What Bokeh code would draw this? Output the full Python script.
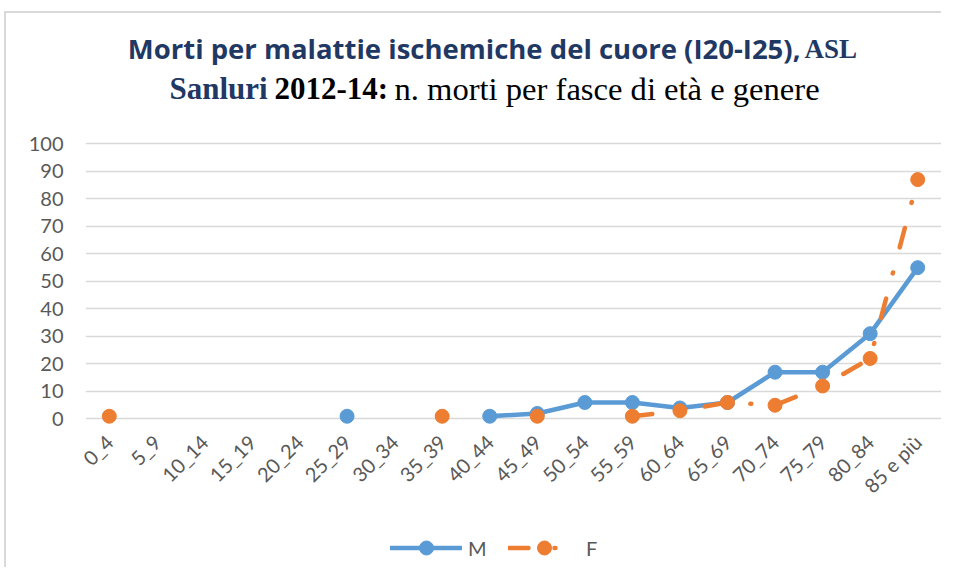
import math
from bokeh.plotting import figure
from bokeh.layouts import column
from bokeh.models import (FactorRange, Range1d, FixedTicker, Label, Legend,
                          LegendItem)
from bokeh.embed import file_html
from bokeh.resources import INLINE

# ---- data ----
categories = ["0_4", "5_9", "10_14", "15_19", "20_24", "25_29", "30_34", "35_39",
              "40_44", "45_49", "50_54", "55_59", "60_64", "65_69", "70_74",
              "75_79", "80_84", "85 e più"]
nan = float("nan")
m_values = [nan, nan, nan, nan, nan, 1, nan, nan, 1, 2, 6, 6, 4, 6, 17, 17, 31, 55]
f_values = [1, nan, nan, nan, nan, nan, nan, 1, nan, 1, nan, 1, 3, 6, 5, 12, 22, 87]
y_ticks = [0, 10, 20, 30, 40, 50, 60, 70, 80, 90, 100]
series_names = ["M", "F"]

title_1a = "Morti per malattie ischemiche del cuore (I20-I25),"
title_1b = "ASL"
title_2a = "Sanluri"
title_2b = "2012-14:"
title_2c = "n. morti per fasce di età e genere"

BLUE = "#5b9bd5"
ORANGE = "#ed7d31"
NAVY = "#1f3864"
GRAY = "#595959"
W = 941
LEFT = 85  # frame left edge (frames of the column are aligned)


def blank(fig):
    fig.outline_line_color = None
    fig.grid.visible = False
    fig.background_fill_alpha = 0
    fig.border_fill_alpha = 0


# ---- title figure ----
t = figure(width=W, height=110, x_range=Range1d(0, W), y_range=Range1d(0, 110),
           output_backend="svg", toolbar_location=None, title=None,
           x_axis_location=None, y_axis_location=None,
           min_border_left=0, min_border_right=0, min_border_top=0, min_border_bottom=0)
blank(t)


def tlabel(px, y, text, align, font, style, size, color):
    t.add_layout(Label(x=px - LEFT, y=y, x_units="screen", y_units="screen", text=text,
                       text_align=align, text_baseline="alphabetic", text_font=font,
                       text_font_style=style, text_font_size=size, text_color=color))


tlabel(800, 62, title_1a, "right", "Open Sans", "bold", "27.5px", NAVY)
tlabel(804, 62, title_1b, "left", "Liberation Serif", "bold", "27px", NAVY)
tlabel(169, 22, title_2a, "left", "Liberation Serif", "bold", "31px", NAVY)
tlabel(274, 22, title_2b, "left", "Liberation Serif", "bold", "31px", "black")
tlabel(394, 22, title_2c, "left", "Liberation Serif", "normal", "32.6px", "black")

# ---- main chart ----
p = figure(x_range=FactorRange(*categories), y_range=Range1d(-4.18, 101.93),
           width=W, height=410, output_backend="svg", toolbar_location=None,
           min_border_left=LEFT, min_border_right=0, min_border_top=28,
           min_border_bottom=90, title=None)
p.outline_line_color = None
p.background_fill_alpha = 0
p.border_fill_alpha = 0

p.yaxis.ticker = FixedTicker(ticks=y_ticks)
p.yaxis.axis_line_color = None
p.yaxis.major_tick_line_color = None
p.yaxis.minor_tick_line_color = None
p.yaxis.major_tick_out = 0
p.yaxis.major_label_standoff = 22
p.yaxis.major_label_text_font = "Lato"
p.yaxis.major_label_text_font_size = "20px"
p.yaxis.major_label_text_color = GRAY

p.xaxis.axis_line_color = None
p.xaxis.major_tick_line_color = None
p.xaxis.major_tick_out = 0
p.xaxis.major_label_standoff = 8
p.xaxis.major_label_orientation = math.pi / 4
p.xaxis.major_label_text_font = "Lato"
p.xaxis.major_label_text_font_size = "20px"
p.xaxis.major_label_text_color = GRAY

p.xgrid.grid_line_color = None
p.ygrid.grid_line_color = "#d9d9d9"
p.ygrid.grid_line_width = 1.3

m_line = dict(line_color=BLUE, line_width=4.5, line_join="round", line_cap="round")
f_line = dict(line_color=ORANGE, line_width=4.5, line_join="round", line_cap="round",
              line_dash="20 26 1 26")
m_pt = dict(size=14, fill_color=BLUE, line_color=BLUE)
f_pt = dict(size=14, fill_color=ORANGE, line_color=ORANGE)

p.line(categories, m_values, **m_line)
p.scatter(categories, m_values, **m_pt)
p.line(categories, f_values, **f_line)
p.scatter(categories, f_values, **f_pt)

# ---- legend strip (proxy glyphs carrying the series styles, kept off-range) ----
lg = figure(width=W, height=47, x_range=Range1d(0, W), y_range=Range1d(0, 47),
            output_backend="svg", toolbar_location=None, title=None,
            x_axis_location=None, y_axis_location=None,
            min_border_left=0, min_border_right=0, min_border_top=0, min_border_bottom=0)
blank(lg)
off = [-100, -90]
lm1 = lg.line(off, off, **m_line)
lm2 = lg.scatter(off, off, **m_pt)
lf1 = lg.line(off, off, **f_line)
lf2 = lg.scatter(off, off, **f_pt)
legend = Legend(items=[LegendItem(label=series_names[0], renderers=[lm1, lm2]),
                       LegendItem(label=series_names[1], renderers=[lf1, lf2])],
                orientation="horizontal", location=(390 - LEFT, 2),
                glyph_width=72, glyph_height=35, label_standoff=6, spacing=20,
                background_fill_alpha=0, border_line_color=None,
                label_text_font="Lato", label_text_font_size="20px",
                label_text_color=GRAY, padding=0, margin=0)
lg.add_layout(legend)

layout = column(t, p, lg, spacing=0)
layout.styles = {
    "background-image": "linear-gradient(#d9d9d9, #d9d9d9), linear-gradient(#d9d9d9, #d9d9d9)",
    "background-size": "2px 100%, 100% 2px",
    "background-position": "4px 11px, 4px 11px",
    "background-repeat": "no-repeat",
}

open("out.html", "w").write(file_html(layout, INLINE))
